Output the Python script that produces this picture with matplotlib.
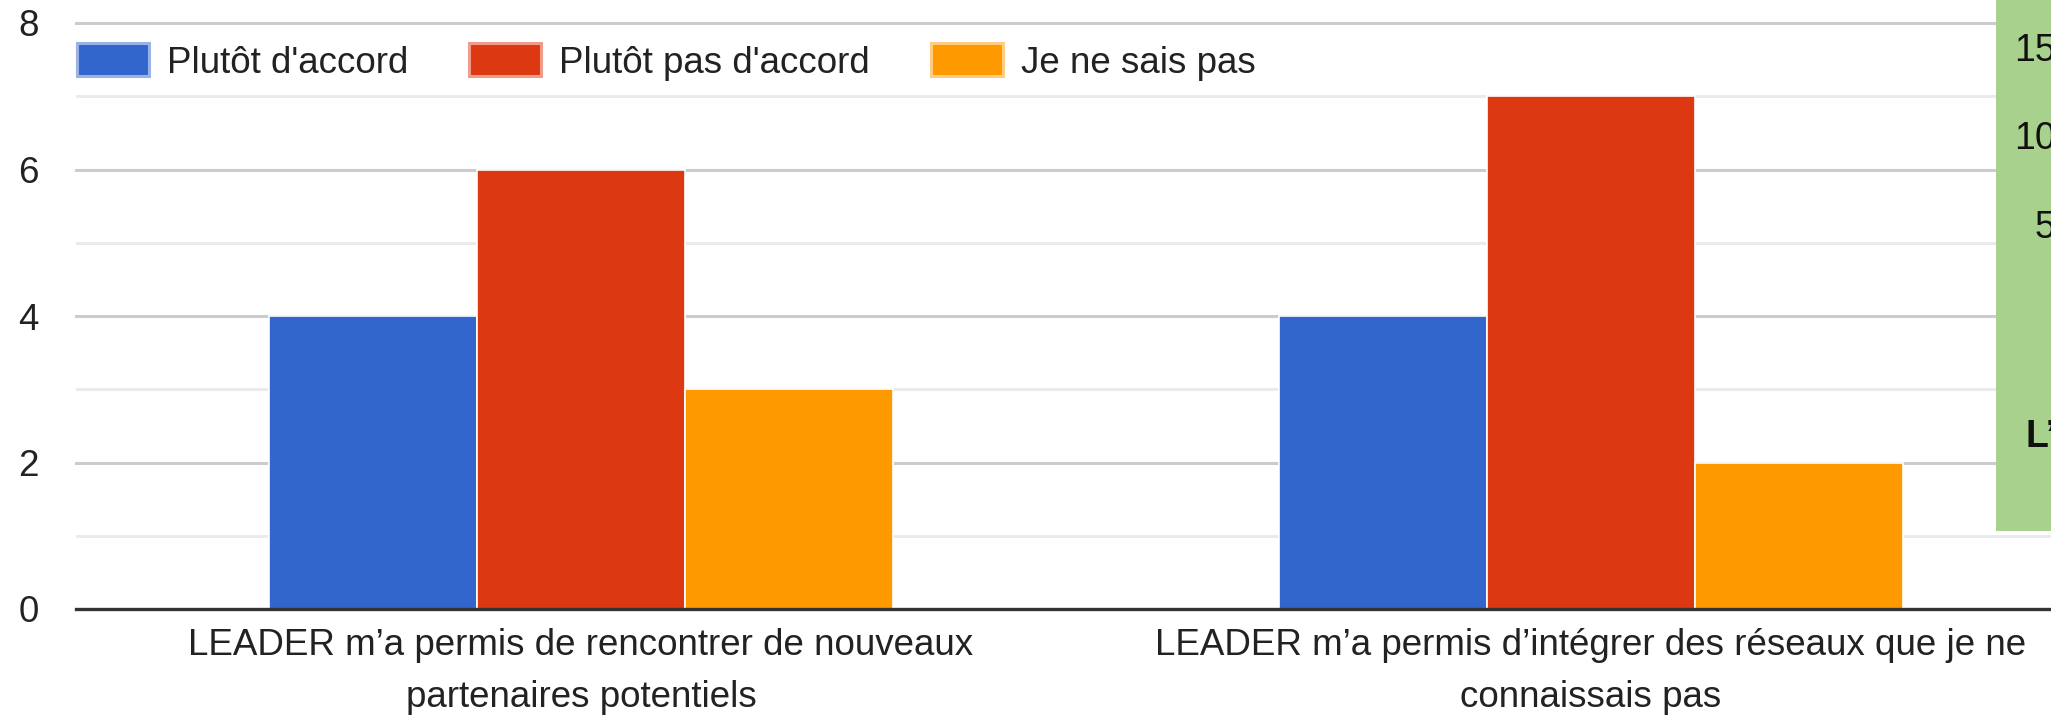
import matplotlib
matplotlib.use("Agg")
import matplotlib.pyplot as plt
from matplotlib.patches import Patch, Rectangle
import numpy as np

categories = ["LEADER m’a permis de rencontrer de nouveaux\npartenaires potentiels",
              "LEADER m’a permis d’intégrer des réseaux que je ne\nconnaissais pas"]
series_names = ["Plutôt d'accord", "Plutôt pas d'accord", "Je ne sais pas"]
values_accord = [4, 4]
values_pas_accord = [6, 7]
values_ne_sais = [3, 2]
y_ticks = [0, 2, 4, 6, 8]
box_texts = ["15", "10", "5", "L’"]

colors = ["#3366CC", "#DC3912", "#FF9900"]
edge_light = ["#99B3E6", "#EE9C89", "#FFCC80"]

W, H = 2051, 718
fig = plt.figure(figsize=(W / 100, H / 100), dpi=100)
plt.rcParams['font.family'] = ['Liberation Sans', 'DejaVu Sans']
FS = 26.5

left_px, right_px, top_px, bot_px = 76, 2051, 23, 609
ax = fig.add_axes([left_px / W, (H - bot_px) / H, (right_px - left_px) / W, (bot_px - top_px) / H])

x = np.arange(len(categories))
bw = 0.206
series = [values_accord, values_pas_accord, values_ne_sais]
for i, (vals, c) in enumerate(zip(series, colors)):
    ax.bar(x + (i - 1) * bw, vals, width=bw, color=c, edgecolor="white", linewidth=1.2, zorder=3)

ax.set_xlim(-0.5, -0.5 + (right_px - left_px) / 1010)
ax.set_ylim(0, 8)
ax.set_yticks(y_ticks)
ax.set_yticklabels([str(t) for t in y_ticks], fontsize=FS, color="#222222")
ax.set_xticks(x)
ax.set_xticklabels(categories, fontsize=FS, color="#222222", linespacing=1.62)
ax.tick_params(axis="both", length=0)
ax.tick_params(axis="y", pad=27)
ax.tick_params(axis="x", pad=14)

for yv in [1, 3, 5, 7]:
    ax.axhline(yv, color="#EBEBEB", lw=2.2, zorder=1)
for yv in [2, 4, 6, 8]:
    ax.axhline(yv, color="#CCCCCC", lw=2.2, zorder=1, clip_on=False)

for s in ["top", "right", "left"]:
    ax.spines[s].set_visible(False)
ax.spines["bottom"].set_color("#333333")
ax.spines["bottom"].set_linewidth(2.4)
ax.spines["bottom"].set_zorder(4)

handles = [Patch(facecolor=c, edgecolor=e, linewidth=2.2) for c, e in zip(colors, edge_light)]
leg = fig.legend(handles, series_names, loc="center left",
                 bbox_to_anchor=(77 / W, (H - 62) / H), ncol=3, frameon=False,
                 fontsize=FS, handlelength=1.95, handleheight=1.0, handletextpad=0.5,
                 columnspacing=1.65, borderpad=0, borderaxespad=0)
for t in leg.get_texts():
    t.set_color("#222222")

# Green box partially visible at the right edge
fig.patches.append(Rectangle((1996 / W, (H - 531) / H), (W - 1996) / W, 531 / H,
                             transform=fig.transFigure, facecolor="#A9D18E",
                             edgecolor="none", zorder=10))
box_pos = [(2014, 47, "normal"), (2014, 135, "normal"), (2035, 224, "normal"), (2025, 433, "bold")]
for (px, py, fw), t in zip(box_pos, box_texts):
    fig.text(px / W, (H - py) / H, t, fontsize=27, color="#111111", ha="left", va="center_baseline",
             fontweight=fw, zorder=11,
             family=["Liberation Sans Narrow", "Liberation Sans", "DejaVu Sans"])

fig.savefig("out.png", dpi=100)
